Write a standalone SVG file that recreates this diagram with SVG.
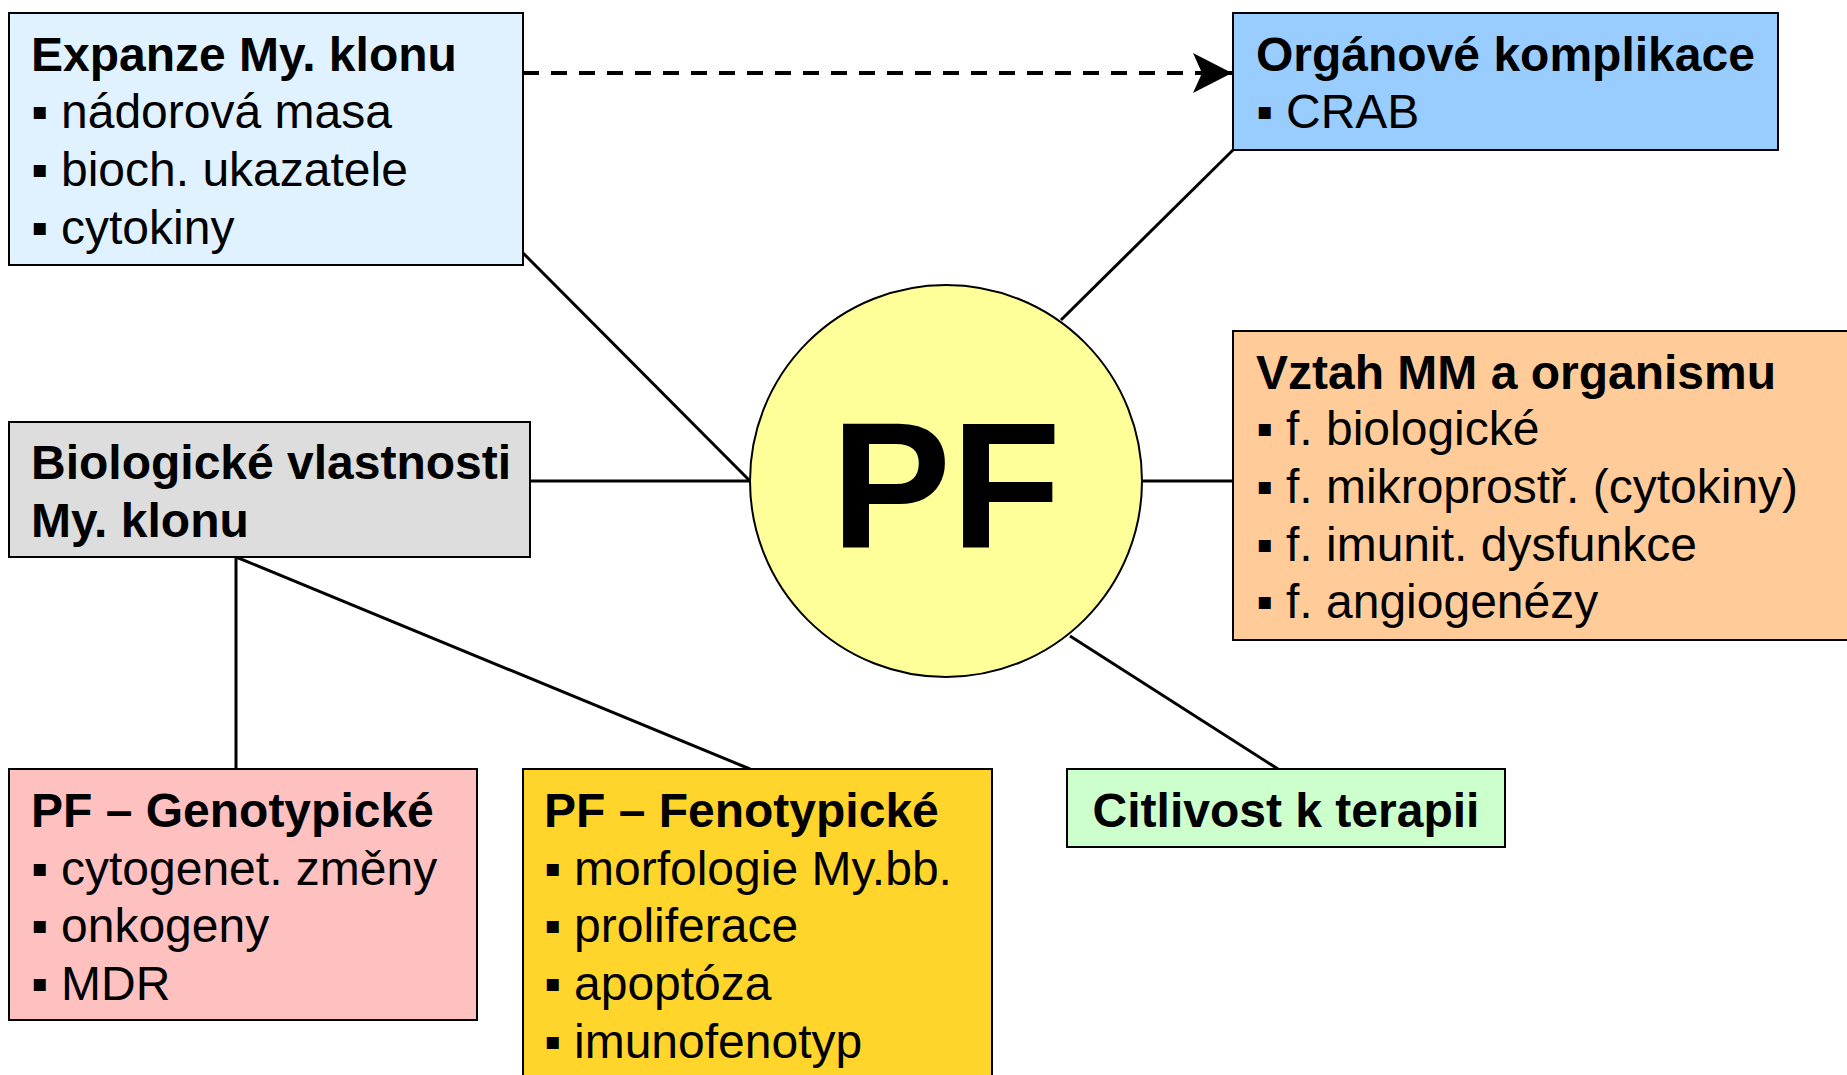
<svg xmlns="http://www.w3.org/2000/svg" width="1847" height="1075" viewBox="0 0 1847 1075">
<style>
.box{stroke:#000;stroke-width:2}
.t{font-family:"Liberation Sans",Arial,sans-serif;font-size:48px;fill:#000}
.b{font-weight:bold}
.c{stroke:#000;stroke-width:3;fill:none}
</style>
<defs>
<marker id="ah2" viewBox="0 0 39 40" refX="39" refY="20" markerWidth="39" markerHeight="40" markerUnits="userSpaceOnUse" orient="auto">
<path d="M0,0 L39,20 L0,40 L9,20 z" fill="#000"/>
</marker>
</defs>
<rect width="1847" height="1075" fill="#fff"/>
<g id="connectors">
<line class="c" x1="523" y1="253" x2="750" y2="481"/>
<line class="c" x1="1233" y1="150" x2="1061" y2="320"/>
<line class="c" x1="530" y1="481" x2="750" y2="481"/>
<line class="c" x1="1143" y1="481" x2="1233" y2="481"/>
<line class="c" x1="1070" y1="636" x2="1278" y2="769"/>
<line class="c" x1="236" y1="557" x2="236" y2="769"/>
<line class="c" x1="236" y1="557" x2="750" y2="769"/>
<line x1="523" y1="73" x2="1232" y2="73" stroke="#000" stroke-width="4" stroke-dasharray="16,12" marker-end="url(#ah2)"/>
</g>
<g id="expanze">
<rect class="box" x="9" y="13" width="514" height="252" fill="#E0F2FF"/>
<text class="t b" x="31" y="71">Expanze My. klonu</text>
<text class="t" x="31" y="128">▪<tspan x="61">nádorová masa</tspan></text>
<text class="t" x="31" y="186">▪<tspan x="61">bioch. ukazatele</tspan></text>
<text class="t" x="31" y="244">▪<tspan x="61">cytokiny</tspan></text>
</g>
<g id="organove">
<rect class="box" x="1233" y="13" width="545" height="137" fill="#99CCFF"/>
<text class="t b" x="1256" y="71">Orgánové komplikace</text>
<text class="t" x="1256" y="128">▪<tspan x="1286">CRAB</tspan></text>
</g>
<g id="pf">
<circle cx="946" cy="481" r="196" fill="#FFFF99" stroke="#000" stroke-width="2"/>
<text class="b" x="946" y="548" text-anchor="middle" style="font-family:'Liberation Sans',Arial,sans-serif;font-size:180px">PF</text>
</g>
<g id="vztah">
<rect class="box" x="1233" y="331" width="630" height="309" fill="#FFCC99"/>
<text class="t b" x="1256" y="389">Vztah MM a organismu</text>
<text class="t" x="1256" y="445">▪<tspan x="1286">f. biologické</tspan></text>
<text class="t" x="1256" y="503">▪<tspan x="1286">f. mikroprostř. (cytokiny)</tspan></text>
<text class="t" x="1256" y="561">▪<tspan x="1286">f. imunit. dysfunkce</tspan></text>
<text class="t" x="1256" y="618">▪<tspan x="1286">f. angiogenézy</tspan></text>
</g>
<g id="biologicke">
<rect class="box" x="9" y="422" width="521" height="135" fill="#DDDDDD"/>
<text class="t b" x="31" y="479">Biologické vlastnosti</text>
<text class="t b" x="31" y="537">My. klonu</text>
</g>
<g id="genotypicke">
<rect class="box" x="9" y="769" width="468" height="251" fill="#FFC0C0"/>
<text class="t b" x="31" y="827">PF – Genotypické</text>
<text class="t" x="31" y="885">▪<tspan x="61">cytogenet. změny</tspan></text>
<text class="t" x="31" y="942">▪<tspan x="61">onkogeny</tspan></text>
<text class="t" x="31" y="1000">▪<tspan x="61">MDR</tspan></text>
</g>
<g id="fenotypicke">
<rect class="box" x="523" y="769" width="469" height="320" fill="#FFD52B"/>
<text class="t b" x="544" y="827">PF – Fenotypické</text>
<text class="t" x="544" y="885">▪<tspan x="574">morfologie My.bb.</tspan></text>
<text class="t" x="544" y="942">▪<tspan x="574">proliferace</tspan></text>
<text class="t" x="544" y="1000">▪<tspan x="574">apoptóza</tspan></text>
<text class="t" x="544" y="1058">▪<tspan x="574">imunofenotyp</tspan></text>
</g>
<g id="citlivost">
<rect class="box" x="1067" y="769" width="438" height="78" fill="#CCFFCC"/>
<text class="t b" x="1286" y="827" text-anchor="middle">Citlivost k terapii</text>
</g>
</svg>
